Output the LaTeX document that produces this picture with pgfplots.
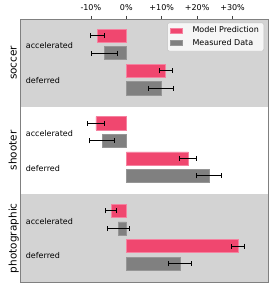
\documentclass[border=0pt]{standalone}
\usepackage{pgfplots}
\pgfplotsset{compat=1.18}
\usepackage{fontspec}
\setmainfont{DejaVu Sans}
\definecolor{pinkbar}{RGB}{240,71,111}
\definecolor{pinkedge}{RGB}{245,130,160}
\definecolor{graybar}{RGB}{128,128,128}
\definecolor{grayedge}{RGB}{150,150,150}
\definecolor{panelgray}{RGB}{211,211,211}
\begin{document}
\begin{tikzpicture}
\path[use as bounding box] (-20pt,-6pt) rectangle (254pt,282pt);
\begin{axis}[
  at={(0,0)}, anchor=south west,
  scale only axis, width=248pt, height=263pt,
  xmin=-30, xmax=40, ymin=0, ymax=3, y dir=reverse,
  xtick={-10,0,10,20,30},
  xticklabels={-10\%,0\%,+10\%,+20\%,+30\%},
  xticklabel pos=upper, xtick pos=upper,
  ytick=\empty,
  tick align=outside,
  major tick length=3pt,
  every tick/.style={draw=darkgray, line width=0.6pt},
  axis line style={draw=gray, line width=0.9pt},
  ticklabel style={font=\fontsize{8}{9}\selectfont},
  xticklabel style={yshift=2pt},
  clip=false,
  axis on top,
  xbar, bar width=0.15, bar shift=0pt,
  legend cell align=left,
  legend image code/.code={\draw[#1,fill opacity=1,sharp corners] (0pt,-2.5pt) rectangle (11.5pt,2.5pt);},
  legend style={at={(0.984,0.986)}, anchor=north east, fill=white, fill opacity=0.8,
    draw opacity=1, text opacity=1, draw=lightgray, rounded corners=2pt,
    font=\fontsize{8}{9}\selectfont, row sep=1pt, inner xsep=3pt, inner ysep=2pt,
    /tikz/every odd column/.append style={column sep=8pt}},
]
\fill[panelgray] (axis cs:-30,0) rectangle (axis cs:40,1);
\fill[panelgray] (axis cs:-30,2) rectangle (axis cs:40,3);

\addplot[fill=pinkbar, draw=pinkedge, line width=0.6pt,
  error bars/.cd, x dir=both, x explicit,
  error bar style={black, line width=1pt},
  error mark options={black, mark size=2.5pt, line width=1pt, rotate=90}]
coordinates {
(-8.2,0.19) +- (2.0,0)
(11.1,0.59) +- (1.85,0)
(-8.6,1.19) +- (2.4,0)
(17.5,1.59) +- (2.4,0)
(-4.3,2.19) +- (1.6,0)
(31.5,2.59) +- (1.8,0)
};
\addlegendentry{Model Prediction}

\addplot[fill=graybar, draw=grayedge, line width=0.6pt,
  error bars/.cd, x dir=both, x explicit,
  error bar style={black, line width=1pt},
  error mark options={black, mark size=2.5pt, line width=1pt, rotate=90}]
coordinates {
(-6.1,0.39) +- (3.6,0)
(9.8,0.79) +- (3.5,0)
(-6.8,1.39) +- (3.5,0)
(23.4,1.79) +- (3.45,0)
(-2.3,2.39) +- (3.1,0)
(15.2,2.79) +- (3.2,0)
};
\addlegendentry{Measured Data}

\node[anchor=west, inner sep=0, font=\fontsize{8}{9}\selectfont] at (axis cs:-28.4,0.305) {accelerated};
\node[anchor=west, inner sep=0, font=\fontsize{8}{9}\selectfont] at (axis cs:-28.4,0.70) {deferred};
\node[anchor=west, inner sep=0, font=\fontsize{8}{9}\selectfont] at (axis cs:-28.4,1.305) {accelerated};
\node[anchor=west, inner sep=0, font=\fontsize{8}{9}\selectfont] at (axis cs:-28.4,1.70) {deferred};
\node[anchor=west, inner sep=0, font=\fontsize{8}{9}\selectfont] at (axis cs:-28.4,2.305) {accelerated};
\node[anchor=west, inner sep=0, font=\fontsize{8}{9}\selectfont] at (axis cs:-28.4,2.70) {deferred};
\node[rotate=90, anchor=base, font=\fontsize{10.5}{12}\selectfont] at ([xshift=-3.5pt]axis cs:-30,0.5) {soccer};
\node[rotate=90, anchor=base, font=\fontsize{10.5}{12}\selectfont] at ([xshift=-3.5pt]axis cs:-30,1.5) {shooter};
\node[rotate=90, anchor=base, font=\fontsize{10.5}{12}\selectfont] at ([xshift=-3.5pt]axis cs:-30,2.5) {photographic};
\end{axis}
\end{tikzpicture}
\end{document}
